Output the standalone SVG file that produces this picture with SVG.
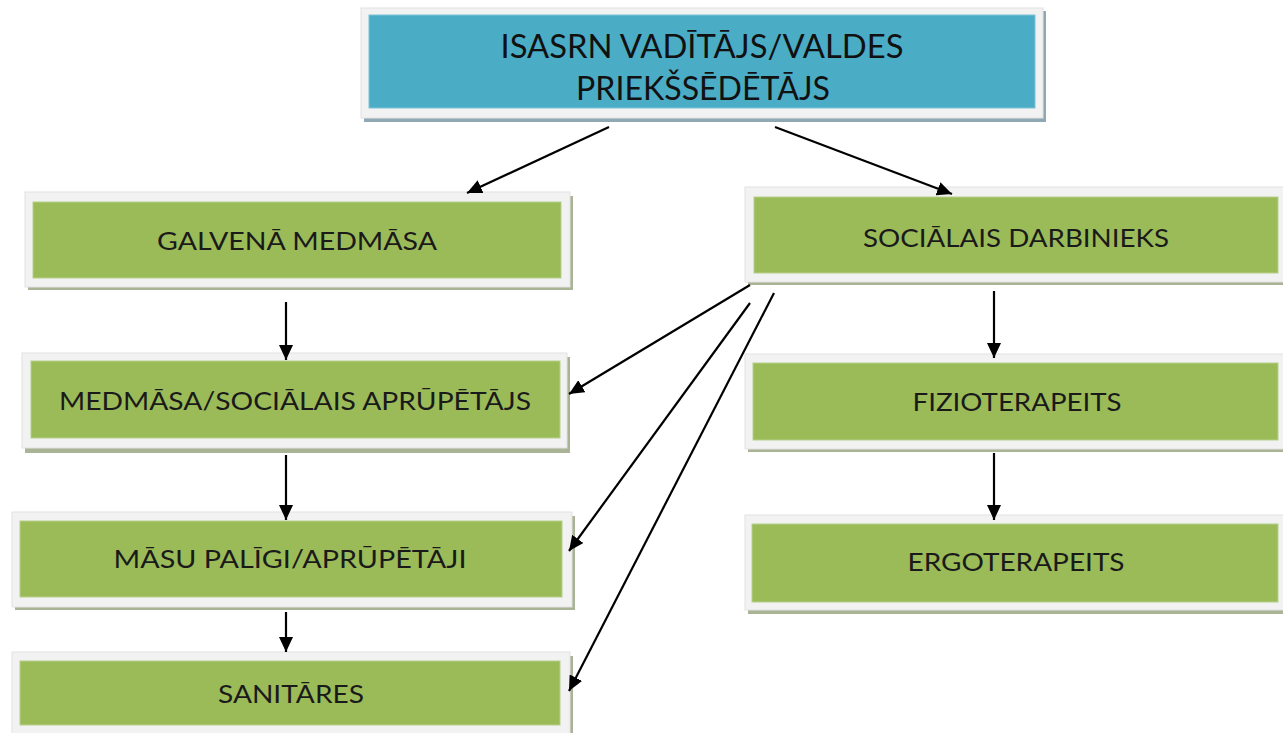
<svg xmlns="http://www.w3.org/2000/svg" width="1283" height="733" viewBox="0 0 1283 733">
<style>
.frame{fill:#f2f2f2;stroke:#e2e2e2;stroke-width:1}
.shg{fill:#a9b395}
.shb{fill:#8fa8b4}
.green{fill:#9bbb59;stroke:#b6cf8a;stroke-width:1}
.blue{fill:#4bacc6;stroke:#7cc3d6;stroke-width:1}
.t{font-family:Lato,"Open Sans","Liberation Sans",sans-serif;font-size:25px;fill:#1a1a1a;text-anchor:middle}
.tt{font-family:Lato,"Liberation Sans",sans-serif;font-size:33px;fill:#111;text-anchor:middle}
.c{stroke:#000;stroke-width:2.2;fill:none;marker-end:url(#ah)}
</style>
<defs>
<marker id="ah" markerUnits="userSpaceOnUse" markerWidth="16" markerHeight="14" refX="15" refY="7" orient="auto">
<path d="M0,0 L15,7 L0,14 z" fill="#000"/>
</marker>
</defs>
<rect width="1283" height="733" fill="#fff"/>

<g id="n-top">
<rect class="shb" x="364" y="11" width="682" height="111"/>
<rect class="frame" x="361" y="8" width="682" height="110"/>
<rect class="blue" x="369" y="15" width="666" height="93"/>
<text class="tt" x="702" y="58" textLength="403" lengthAdjust="spacingAndGlyphs">ISASRN VADĪTĀJS/VALDES</text>
<text class="tt" x="703" y="100" textLength="254" lengthAdjust="spacingAndGlyphs">PRIEKŠSĒDĒTĀJS</text>
</g>

<g id="n-galvena">
<rect class="shg" x="28" y="196" width="545" height="94"/>
<rect class="frame" x="25" y="192" width="545" height="95"/>
<rect class="green" x="33" y="202" width="528" height="76"/>
<text class="t" x="297" y="250" textLength="280" lengthAdjust="spacingAndGlyphs">GALVENĀ MEDMĀSA</text>
</g>

<g id="n-social">
<rect class="shg" x="748" y="191" width="540" height="94"/>
<rect class="frame" x="745" y="187" width="545" height="95"/>
<rect class="green" x="754" y="197" width="524" height="76"/>
<text class="t" x="1016" y="247" textLength="306" lengthAdjust="spacingAndGlyphs">SOCIĀLAIS DARBINIEKS</text>
</g>

<g id="n-medmasa">
<rect class="shg" x="25" y="357" width="545" height="96"/>
<rect class="frame" x="22" y="353" width="545" height="95"/>
<rect class="green" x="31" y="361" width="529" height="77"/>
<text class="t" x="295" y="410" textLength="472" lengthAdjust="spacingAndGlyphs">MEDMĀSA/SOCIĀLAIS APRŪPĒTĀJS</text>
</g>

<g id="n-masu">
<rect class="shg" x="15" y="516" width="560" height="94"/>
<rect class="frame" x="12" y="512" width="560" height="95"/>
<rect class="green" x="20" y="521" width="542" height="76"/>
<text class="t" x="290" y="568" textLength="353" lengthAdjust="spacingAndGlyphs">MĀSU PALĪGI/APRŪPĒTĀJI</text>
</g>

<g id="n-sanitares">
<rect class="shg" x="15" y="656" width="558" height="90"/>
<rect class="frame" x="12" y="652" width="558" height="90"/>
<rect class="green" x="20" y="661" width="540" height="64"/>
<text class="t" x="291" y="703" textLength="146" lengthAdjust="spacingAndGlyphs">SANITĀRES</text>
</g>

<g id="n-fizio">
<rect class="shg" x="748" y="358" width="540" height="94"/>
<rect class="frame" x="745" y="354" width="545" height="95"/>
<rect class="green" x="753" y="363" width="525" height="77"/>
<text class="t" x="1017" y="411" textLength="209" lengthAdjust="spacingAndGlyphs">FIZIOTERAPEITS</text>
</g>

<g id="n-ergo">
<rect class="shg" x="748" y="519" width="540" height="95"/>
<rect class="frame" x="745" y="515" width="545" height="95"/>
<rect class="green" x="752" y="524" width="526" height="78"/>
<text class="t" x="1016" y="571" textLength="217" lengthAdjust="spacingAndGlyphs">ERGOTERAPEITS</text>
</g>

<g id="connectors">
<line class="c" x1="609" y1="127" x2="467" y2="193"/>
<line class="c" x1="775" y1="127" x2="952" y2="194"/>
<line class="c" x1="286" y1="302" x2="286" y2="360"/>
<line class="c" x1="286" y1="455" x2="286" y2="520"/>
<line class="c" x1="286" y1="612" x2="286" y2="652"/>
<line class="c" x1="994" y1="291" x2="994" y2="358"/>
<line class="c" x1="994" y1="453" x2="994" y2="520"/>
<line class="c" x1="750" y1="285" x2="569" y2="394"/>
<line class="c" x1="750" y1="303" x2="569" y2="551"/>
<line class="c" x1="774" y1="293" x2="569" y2="691"/>
</g>
</svg>
